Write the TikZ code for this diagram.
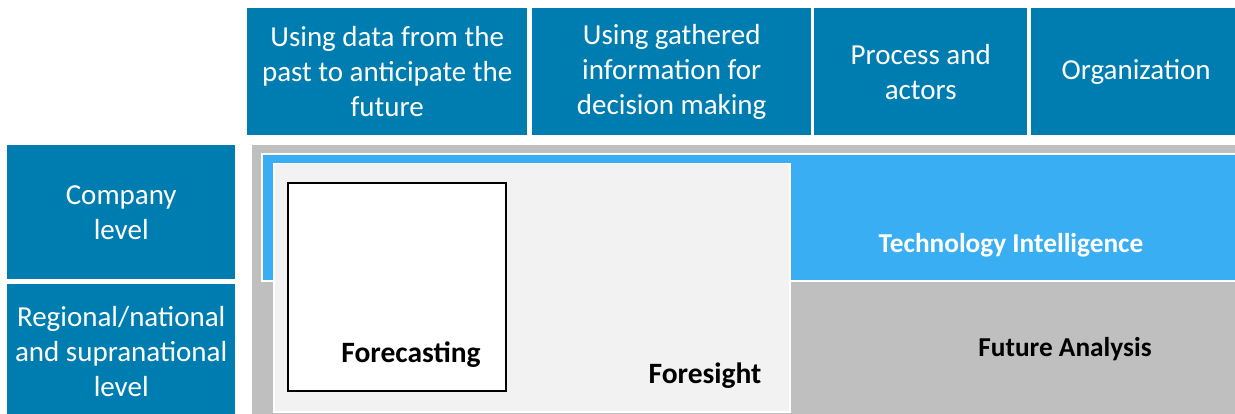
\documentclass[tikz,border=0pt]{standalone}
\usepackage{fontspec}
\setmainfont{Carlito}
\definecolor{hdrblue}{HTML}{007DB0}
\definecolor{tiblue}{HTML}{3AAEF2}
\definecolor{fagray}{HTML}{BFBFBF}
\definecolor{fsgray}{HTML}{F2F2F2}
\begin{document}
\begin{tikzpicture}[x=1pt,y=-1pt,
  cell/.style={fill=hdrblue, text=white, anchor=north west, inner sep=0pt,
    align=center, font=\fontsize{29}{35}\selectfont},
  area/.style={anchor=north west, inner sep=0pt},
  tag/.style={inner sep=0pt, font=\fontsize{27.3}{31}\selectfont\bfseries},
  bigtag/.style={inner sep=0pt, font=\fontsize{29.5}{33}\selectfont\bfseries}]
\useasboundingbox (0,0) rectangle (1235,414);
\clip (0,0) rectangle (1235,414);

% column headers
\node[cell, minimum width=280pt, minimum height=127pt] (h1) at (247,8)
  {Using data from the\\past to anticipate the\\future};
\node[cell, minimum width=279pt, minimum height=127pt] (h2) at (532,8)
  {Using gathered\\information for\\decision making};
\node[cell, minimum width=213pt, minimum height=127pt] (h3) at (814,8)
  {Process and\\actors};
\node[cell, minimum width=210pt, minimum height=127pt] (h4) at (1031,8)
  {\raisebox{-2pt}{Organization}};

% row headers
\node[cell, minimum width=228pt, minimum height=134pt] (r1) at (7,145)
  {Company\\level};
\node[cell, minimum width=228pt, minimum height=134pt] (r2) at (7,284)
  {Regional/national\\and supranational\\level};

% nested areas
\node[area, fill=fagray, minimum width=995pt, minimum height=280pt] (fa) at (252,145) {};
\node[area, fill=tiblue, draw=white, line width=2pt,
  minimum width=985pt, minimum height=127pt] (ti) at (261,153) {};
\node[area, fill=fsgray, draw=white, line width=1.5pt,
  minimum width=516pt, minimum height=248pt] (fs) at (273,163) {};
\node[area, fill=white, draw=black, line width=2pt,
  minimum width=218pt, minimum height=208pt] (fc) at (287,182) {};

% area labels
\node[tag, text=white] (tilbl) at (1011,245) {Technology Intelligence};
\node[tag, text=black] (falbl) at (1065,349) {Future Analysis};
\node[bigtag, text=black] (fclbl) at (411,355) {Forecasting};
\node[bigtag, text=black] (fslbl) at (705,376) {Foresight};
\end{tikzpicture}
\end{document}
